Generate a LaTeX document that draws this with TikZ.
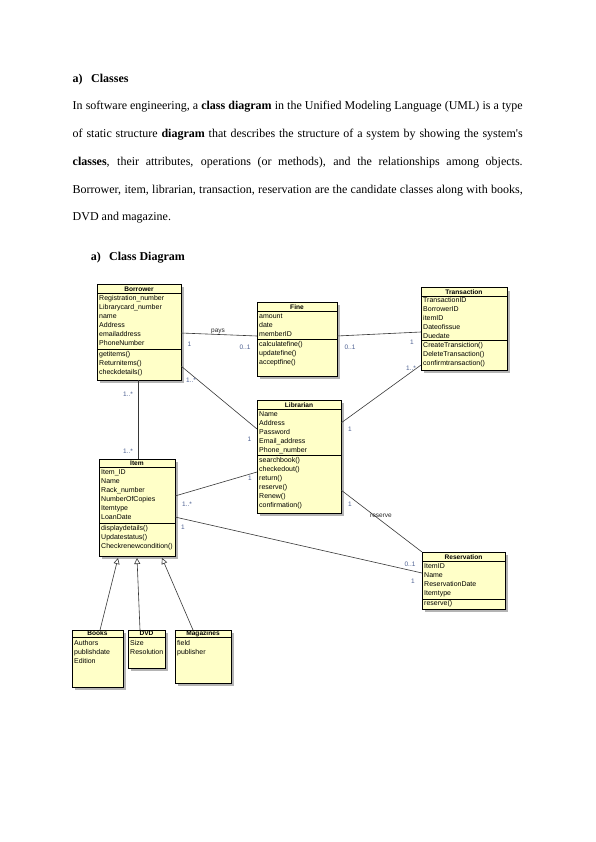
\documentclass[tikz,border=0pt]{standalone}
\usepackage{fontspec}
\setmainfont{Liberation Serif}
\newfontfamily\umlfont{Liberation Sans}
\usetikzlibrary{arrows.meta}
\definecolor{boxfill}{RGB}{255,255,200}
\definecolor{shadegray}{RGB}{180,180,180}
\definecolor{multc}{RGB}{75,95,145}
\definecolor{edgec}{RGB}{55,55,55}
\tikzset{
 classbox/.style={draw=black, fill=boxfill, line width=0.7pt, inner sep=0, outer sep=0},
 rowtxt/.style={anchor=base west, inner sep=0, font=\umlfont\fontsize{7}{8}\selectfont},
 titletxt/.style={anchor=base, inner sep=0, font=\umlfont\bfseries\fontsize{6.6}{8}\selectfont},
 assoc/.style={draw=edgec, line width=0.6pt},
 genline/.style={draw=edgec, line width=0.6pt, -{Triangle[open,length=6pt,width=6pt]}},
 multlbl/.style={inner sep=0, text=multc, font=\umlfont\fontsize{6.5}{8}\selectfont},
 rolelbl/.style={inner sep=0, text=black!85, font=\umlfont\fontsize{6.5}{8}\selectfont},
 bodytxt/.style={anchor=base west, inner sep=0, font=\fontsize{12}{14}\selectfont},
}
\newcommand\umlbox[7]{%
  \fill[shadegray] ({#2+3},{#3+3}) rectangle ({#4+3},{#5+3});
  \node[classbox, anchor=north west, minimum width={(#4-#2)*1pt}, minimum height={(#5-#3)*1pt}] (#1) at (#2,#3) {};
  \draw[line width=0.7pt] (#2,#6) -- (#4,#6);
  \node[titletxt] (#1-title) at ({(#2+#4)/2},{#6-1.9}) {#7};
}
\newcommand\umlsep[3]{\draw[line width=0.7pt] (#1,#3) -- (#2,#3);}
\newcommand\umlrows[4]{%
  \foreach \t [count=\i from 0] in {#4} {\node[rowtxt] (#1\i) at ({#2+2},{#3+9*\i}) {\t};}
}
\begin{document}
\begin{tikzpicture}[x=1pt,y=-1pt]
\fill[white] (0,0) rectangle (596,842);
\useasboundingbox (0,0) rectangle (596,842);

% ---------- text ----------
\node[bodytxt, font=\fontsize{12}{14}\selectfont\bfseries] (h1a) at (72.5,82.7) {a)};
\node[bodytxt, font=\fontsize{12}{14}\selectfont\bfseries] (h1b) at (91,82.7) {Classes};
\node[bodytxt] (l1) at (72.5,110) {\makebox[450pt][s]{In software engineering, a \textbf{class diagram} in the Unified Modeling Language (UML) is a type}};
\node[bodytxt] (l2) at (72.5,137.7) {\makebox[450pt][s]{of static structure \textbf{diagram} that describes the structure of a system by showing the system\textquotesingle s}};
\node[bodytxt] (l3) at (72.5,165.4) {\makebox[450pt][s]{\textbf{classes}, their attributes, operations (or methods), and the relationships among objects.}};
\node[bodytxt] (l4) at (72.5,193.1) {\makebox[450pt][s]{Borrower, item, librarian, transaction, reservation are the candidate classes along with books,}};
\node[bodytxt] (l5) at (72.5,220.8) {DVD and magazine.};
\node[bodytxt, font=\fontsize{12}{14}\selectfont\bfseries] (h2a) at (90.7,260) {a)};
\node[bodytxt, font=\fontsize{12}{14}\selectfont\bfseries] (h2b) at (109,260) {Class Diagram};

% ---------- classes ----------
\umlbox{borrower}{97}{284}{181}{380}{293}{Borrower}
\umlrows{borrA}{97}{300}{Registration\_number, Librarycard\_number, name, Address, emailaddress, PhoneNumber}
\umlsep{97}{181}{349}
\umlrows{borrM}{97}{356}{getitems(), Returnitems(), checkdetails()}

\umlbox{fine}{257}{302}{337}{376}{311}{Fine}
\umlrows{fineA}{257}{318}{amount, date, memberID}
\umlsep{257}{337}{339}
\umlrows{fineM}{257}{346}{calculatefine(), updatefine(), acceptfine()}

\umlbox{trans}{421}{287.5}{507}{370}{296}{Transaction}
\umlrows{transA}{421}{302.5}{TransactionID, BorrowerID, itemID, Dateofissue, Duedate}
\umlsep{421}{507}{340}
\umlrows{transM}{421}{347}{CreateTransiction(), DeleteTransaction(), confirmtransaction()}

\umlbox{lib}{257}{400}{341}{513}{409}{Librarian}
\umlrows{libA}{257}{416}{Name, Address, Password, Email\_address, Phone\_number}
\umlsep{257}{341}{455}
\umlrows{libM}{257}{462}{searchbook(), checkedout(), return(), reserve(), Renew(), confirmation()}

\umlbox{item}{99}{459}{175}{556}{467}{Item}
\umlrows{itemA}{99}{474}{Item\_ID, Name, Rack\_number, NumberOfCopies, Itemtype, LoanDate}
\umlsep{99}{175}{523}
\umlrows{itemM}{99}{530}{displaydetails(), Updatestatus(), Checkrenewcondition()}

\umlbox{resv}{422}{552}{505}{609}{561}{Reservation}
\umlrows{resvA}{422}{568}{ItemID, Name, ReservationDate, Itemtype}
\umlsep{422}{505}{599}
\umlrows{resvM}{422}{605.5}{reserve()}

\umlbox{books}{72}{630}{123}{687}{637.5}{Books}
\umlrows{booksA}{72}{645}{Authors, publishdate, Edition}

\umlbox{dvd}{128}{630}{165}{668}{637.5}{DVD}
\umlrows{dvdA}{128}{645}{Size, Resolution}

\umlbox{mag}{175}{630}{231}{683}{637.5}{Magazines}
\umlrows{magA}{175}{645}{field, publisher}

% ---------- associations ----------
\draw[assoc] ([yshift=-49pt]borrower.north east) -- ([yshift=-34pt]fine.north west);
\draw[assoc] ([yshift=-34pt]fine.north east) -- ([yshift=-44.5pt]trans.north west);
\draw[assoc] ([yshift=-82pt]borrower.north east) -- ([yshift=-29pt]lib.north west);
\draw[assoc] ([xshift=41pt]borrower.south west) -- ([xshift=39pt]item.north west);
\draw[assoc] ([yshift=-37pt]item.north east) -- ([yshift=-72pt]lib.north west);
\draw[assoc] ([yshift=-58pt]item.north east) -- ([yshift=-21pt]resv.north west);
\draw[assoc] ([yshift=-23pt]lib.north east) -- ([yshift=5pt]trans.south west);
\draw[assoc] ([yshift=-90pt]lib.north east) -- (resv.north west);

% ---------- generalisations ----------
\draw[genline] ([xshift=28pt]books.north west) -- ([xshift=19pt,yshift=-2pt]item.south west);
\draw[genline] ([xshift=12pt]dvd.north west) -- ([xshift=38pt,yshift=-2pt]item.south west);
\draw[genline] ([xshift=18pt]mag.north west) -- ([xshift=63pt,yshift=-2pt]item.south west);

% ---------- labels ----------
\node[rolelbl] (pays) at (218,331) {pays};
\node[multlbl] (m1) at (189.5,344.5) {1};
\node[multlbl] (m2) at (245,347) {0..1};
\node[multlbl] (m3) at (350,347) {0..1};
\node[multlbl] (m4) at (412,342) {1};
\node[multlbl] (m5) at (191,380) {1..*};
\node[multlbl] (m6) at (249.5,439.5) {1};
\node[multlbl] (m7) at (128,394.5) {1..*};
\node[multlbl] (m8) at (128,451.5) {1..*};
\node[multlbl] (m9) at (187,504) {1..*};
\node[multlbl] (m10) at (250,478) {1};
\node[multlbl] (m11) at (183,527) {1};
\node[multlbl] (m12) at (410,564) {0..1};
\node[multlbl] (m13) at (413,581) {1};
\node[multlbl] (m14) at (411,368) {1..*};
\node[multlbl] (m15) at (350,429) {1};
\node[multlbl] (m16) at (350,504) {1};
\node[rolelbl] (reserve) at (381,516) {reserve};
\end{tikzpicture}
\end{document}
